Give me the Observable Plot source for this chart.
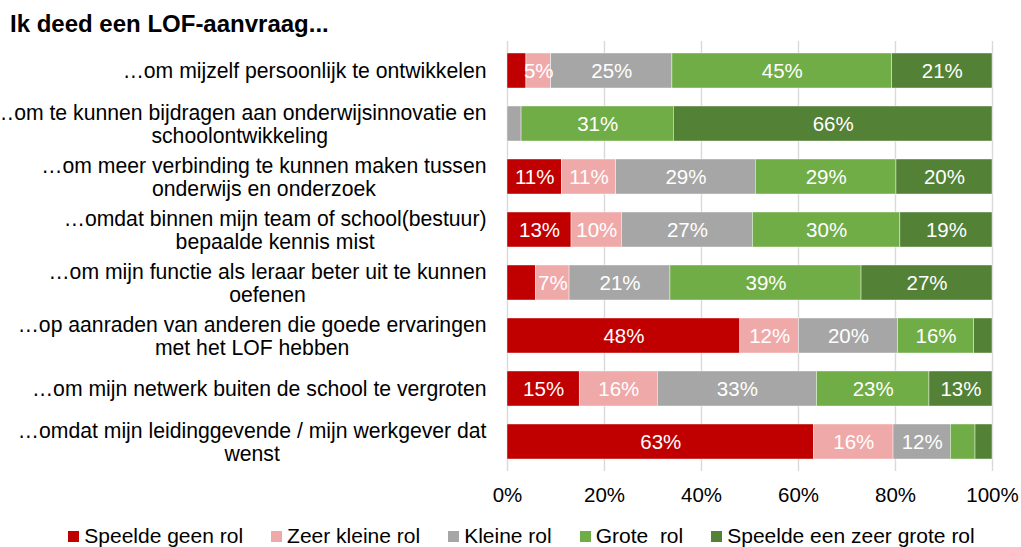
<!DOCTYPE html>
<html>
<head>
<meta charset="utf-8">
<script src="https://cdn.jsdelivr.net/npm/d3@7"></script>
<script src="https://cdn.jsdelivr.net/npm/@observablehq/plot@0.6"></script>
<style>
  html, body { margin: 0; padding: 0; background: #fff; }
  #wrap { position: relative; width: 1021px; height: 547px; overflow: hidden; font-family: "Liberation Sans", Arial, sans-serif; color: #000; }
  #title { position: absolute; left: 10px; top: 12px; font-size: 24px; line-height: 24px; font-weight: bold; white-space: nowrap; }
  #chart { position: absolute; left: 0; top: 36px; }
  #legend { position: absolute; left: 0; top: 518px; width: 1021px; height: 36px; display: flex; justify-content: center; align-items: center; gap: 28px; padding-left: 22px; box-sizing: border-box; font-size: 21px; }
  .li { display: flex; align-items: center; white-space: pre; }
  .sw { width: 11px; height: 11px; margin-right: 5px; display: inline-block; }
</style>
</head>
<body>
<div id="wrap">
  <div id="title">Ik deed een LOF-aanvraag...</div>
  <div id="chart"></div>
  <div id="legend"></div>
</div>
<script>
// Categories (rows, top to bottom)
const categories = [
  "…om mijzelf persoonlijk te ontwikkelen",
  "…om te kunnen bijdragen aan onderwijsinnovatie en\nschoolontwikkeling",
  "…om meer verbinding te kunnen maken tussen\nonderwijs en onderzoek",
  "…omdat binnen mijn team of school(bestuur)\nbepaalde kennis mist",
  "…om mijn functie als leraar beter uit te kunnen\noefenen",
  "…op aanraden van anderen die goede ervaringen\nmet het LOF hebben",
  "…om mijn netwerk buiten de school te vergroten",
  "…omdat mijn leidinggevende / mijn werkgever dat\nwenst"
];

// Series names (legend order)
const seriesNames = ["Speelde geen rol", "Zeer kleine rol", "Kleine rol", "Grote  rol", "Speelde een zeer grote rol"];
const seriesColors = ["#C00000", "#F0A9A9", "#A6A6A6", "#70AD47", "#538135"];

// Series values (%), one per category
const speeldeGeenRol   = [3.9, 0,    11.2, 13.2, 5.9, 48.0, 14.9, 63.2];
const zeerKleineRol    = [5.1, 0,    11.2, 10.4, 6.9, 12.1, 16.1, 16.4];
const kleineRol        = [25.0, 2.9, 28.8, 27.0, 20.8, 20.4, 32.8, 11.8];
const groteRol         = [45.3, 31.4, 29.0, 30.4, 39.4, 15.7, 23.2, 5.1];
const zeerGroteRol     = [20.7, 65.7, 19.8, 19.0, 27.0, 3.8, 13.0, 3.5];

// Data labels that are not shown in the original: [category index, series index]
const hiddenLabels = [[0, 0], [1, 0], [1, 1], [1, 2], [4, 0], [5, 4], [7, 3], [7, 4]];

// x-axis ticks
const xTicks = [0, 20, 40, 60, 80, 100];

const seriesValues = [speeldeGeenRol, zeerKleineRol, kleineRol, groteRol, zeerGroteRol];
const data = [];
categories.forEach((c, i) => {
  seriesNames.forEach((s, j) => {
    data.push({cat: c, series: s, value: seriesValues[j][i],
      hidden: hiddenLabels.some(([a, b]) => a === i && b === j)});
  });
});

const fontFamily = '"Liberation Sans", Arial, sans-serif';

const chart = Plot.plot({
  width: 1021,
  height: 480,
  marginLeft: 507,
  marginRight: 29,
  marginTop: 5,
  marginBottom: 45,
  style: {fontFamily, fontSize: "20.5px", color: "#000", background: "transparent", overflow: "visible"},
  x: {domain: [0, 100], label: null},
  y: {domain: categories, padding: 0.347, paddingOuter: 0.185, axis: null, label: null},
  color: {domain: seriesNames, range: seriesColors},
  marks: [
    Plot.ruleX(xTicks, {stroke: "#D9D9D9", strokeWidth: 1.4}),
    Plot.barX(data, Plot.stackX({x: "value", y: "cat", fill: "series", order: seriesNames, stroke: "#ffffff", strokeWidth: 0.6, strokeOpacity: 0.7})),
    Plot.text(data, Plot.stackX({x: "value", y: "cat", z: "series", order: seriesNames,
      text: d => d.hidden || d.value === 0 ? null : Math.round(d.value) + "%",
      fill: "#ffffff", fontSize: 20.5})),
    Plot.axisX(xTicks, {tickSize: 0, tickPadding: 16, tickFormat: d => d + "%", fontSize: 20.5, fill: "#000", label: null}),
    Plot.text(categories, {y: d => d, text: d => d, frameAnchor: "left", dx: -21, textAnchor: "end",
      lineHeight: 1.1, fontSize: 21.2, fill: "#000"})
  ]
});

document.getElementById("chart").appendChild(chart);

// center the wrapped lines of each category label under its first line (Excel style)
chart.querySelectorAll("text").forEach(t => {
  const spans = t.querySelectorAll("tspan");
  if (spans.length < 2) return;
  let w = 0;
  spans.forEach(s => { w = Math.max(w, s.getComputedTextLength()); });
  t.setAttribute("text-anchor", "middle");
  t.style.textAnchor = "middle";
  spans.forEach(s => { s.setAttribute("x", -w / 2); s.style.textAnchor = "middle"; });
});

// legend
const legend = document.getElementById("legend");
seriesNames.forEach((s, i) => {
  const item = document.createElement("div");
  item.className = "li";
  const sw = document.createElement("span");
  sw.className = "sw";
  sw.style.background = seriesColors[i];
  const lab = document.createElement("span");
  lab.textContent = s;
  item.appendChild(sw);
  item.appendChild(lab);
  legend.appendChild(item);
});
</script>
</body>
</html>
